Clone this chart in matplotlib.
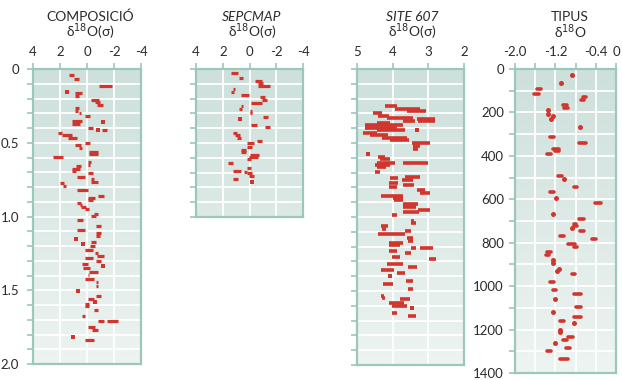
import numpy as np
import matplotlib
matplotlib.use("Agg")
import matplotlib.pyplot as plt
from matplotlib.colors import to_rgb
from matplotlib.ticker import MultipleLocator, FixedLocator, FixedFormatter

plt.rcParams["font.family"] = ["Lato", "DejaVu Sans"]
plt.rcParams["axes.unicode_minus"] = False

RED = "#d2352d"
SPINE = "#9cc7bc"
TEXT = "#2b2b2b"
TOP_BG = np.array(to_rgb("#cde0db"))
BOTTOM_BG = np.array(to_rgb("#eef4f2"))

# --- COMPOSICIO: dashes (depth, x from, x to) and single dots
comp_depth = [0.041, 0.065, 0.114, 0.165, 0.185, 0.209, 0.227, 0.247, 0.262, 0.285,
              0.300, 0.322, 0.352, 0.375, 0.397, 0.415, 0.431, 0.450, 0.466,
              0.504, 0.518, 0.534, 0.560, 0.578, 0.595, 0.630, 0.650, 0.659, 0.677,
              0.692, 0.708, 0.731, 0.745, 0.763, 0.775, 0.795, 0.822, 0.858, 0.874,
              0.890, 0.908, 0.920, 0.935, 0.949, 0.980, 0.996, 1.021, 1.062, 1.094,
              1.112, 1.134, 1.171, 1.203, 1.225, 1.248, 1.266, 1.279, 1.302, 1.320,
              1.352, 1.375, 1.397, 1.425, 1.447, 1.470, 1.542, 1.561, 1.592, 1.610,
              1.637, 1.674, 1.710, 1.710, 1.746, 1.769, 1.837]
comp_from = [1.34, 0.97, -0.86, 0.92, 0.92, -0.32, -0.56, -0.73, 0.92, 0.92,
             0.61, 0.12, 1.14, 1.14, -0.05, -1.10, 2.12, 1.83, 1.40,
             0.17, 0.90, 0.60, -0.12, -0.17, 2.55, -0.07, -0.07, 0.80, 1.10,
             1.14, -0.07, 0.73, -0.32, -0.32, 1.97, 1.80, 0.73, -0.85, -0.07,
             -0.10, 0.73, 0.55, 0.41, 0.17, -0.49, -0.32, 0.73, -0.66, 0.73,
             -0.70, -0.66, -0.32, -0.25, 0.12, -0.56, -0.73, 0.17, -0.66, 0.36,
             0.31, -0.12, -0.07, 0.12, -0.66, -0.66, -0.66, -0.07, 0.17, 0.17,
             -0.49, 0.36, -0.85, -1.46, -0.07, -0.39, 0.12]
comp_to = [0.97, 0.56, -1.88, 0.37, 0.60, -0.86, -0.97, -1.22, 0.61, 0.65,
           0.41, -0.25, 0.37, 0.55, -0.42, -1.46, 1.83, 1.10, 0.73,
           -0.25, 0.45, 0.36, -0.85, -0.80, 1.78, -0.27, -0.25, 0.41, 0.49,
           0.80, -0.46, 0.17, -0.49, -0.85, 1.70, 1.58, -0.07, -1.24, -0.61,
           -0.45, 0.45, 0.36, 0.07, -0.17, -0.85, -0.66, 0.31, -1.05, 0.17,
           -1.00, -0.95, -0.66, -0.61, -0.42, -0.80, -1.29, -0.42, -1.05, -0.07,
           -0.25, -0.85, -0.17, -0.49, -0.85, -0.80, -1.05, -0.49, -0.12, -0.17,
           -0.85, 0.12, -1.29, -2.27, -0.61, -0.85, -0.49]
comp_dot_depth = [0.154, 0.356, 0.413, 1.153, 1.189, 1.338, 1.506, 1.583, 1.819]
comp_dot_x = [1.46, -1.15, -0.78, 0.85, 0.31, -1.15, 0.66, -0.56, 1.04]

# --- SEPCMAP
sep_depth = [0.025, 0.058, 0.081, 0.097, 0.117, 0.137, 0.155, 0.176, 0.191, 0.209,
             0.232, 0.250, 0.268, 0.282, 0.300, 0.322, 0.376, 0.392, 0.430, 0.448,
             0.466, 0.486, 0.502, 0.525, 0.545, 0.560, 0.579, 0.597, 0.610, 0.633,
             0.667, 0.687, 0.694, 0.705, 0.723, 0.745]
sep_from = [1.41, 0.77, -0.43, -0.60, -0.67, 1.25, 1.41, 0.65, -0.79, -0.91,
            -0.14, 0.65, 0.77, -0.02, -0.05, -0.98, -0.14, -1.15, 1.20, 1.05,
            0.93, -0.55, 0.17, 0.22, 0.65, 0.65, -0.07, 0.05, 0.22, 1.60,
            0.22, 1.20, 0.41, 0.17, 0.05, 1.25]
sep_to = [0.89, 0.46, -0.91, -0.98, -1.56, 1.08, 1.13, 0.05, -1.15, -1.32,
          -0.91, 0.46, 0.53, -0.19, -0.19, -1.37, -0.55, -1.51, 0.93, 0.74,
          0.60, -0.91, -0.36, -0.19, 0.29, 0.29, -0.74, -0.67, -0.12, 1.25,
          -0.12, 0.65, 0.22, -0.19, -0.31, 0.84]
sep_dot_depth = [0.338, 0.764]
sep_dot_x = [0.72, -0.19]

# --- SITE 607
site_depth = [0.250, 0.268, 0.284, 0.300, 0.318, 0.333, 0.340, 0.352, 0.350, 0.363,
              0.380, 0.396, 0.412, 0.430, 0.448, 0.466, 0.480, 0.502, 0.520, 0.540,
              0.592, 0.610, 0.633, 0.633, 0.650, 0.664, 0.694, 0.727, 0.738, 0.750,
              0.773, 0.784, 0.800, 0.818, 0.840, 0.855, 0.870, 0.885, 0.915, 0.930,
              0.951, 0.969, 0.988, 1.024, 1.040, 1.058, 1.078, 1.096, 1.114, 1.141,
              1.159, 1.173, 1.191, 1.209, 1.209, 1.231, 1.245, 1.268, 1.284, 1.318,
              1.340, 1.358, 1.376, 1.431, 1.454, 1.487, 1.532, 1.548, 1.557, 1.580,
              1.598, 1.652, 1.670]
site_from = [4.22, 3.93, 3.61, 4.54, 4.40, 4.17, 3.32, 3.30, 3.70, 4.45,
             4.78, 4.78, 4.45, 4.83, 4.64, 4.31, 4.08, 3.46, 3.42, 3.42,
             4.40, 4.36, 4.45, 3.72, 4.50, 4.45, 4.50, 3.65, 4.08, 3.75,
             4.09, 3.72, 4.09, 3.32, 3.23, 4.34, 3.98, 3.95, 3.70, 3.70,
             3.28, 3.72, 4.03, 3.49, 3.49, 4.34, 4.30, 3.65, 4.40, 3.61,
             3.58, 4.09, 4.09, 3.49, 3.23, 4.09, 3.65, 4.03, 2.98, 4.17,
             3.56, 4.34, 3.87, 3.62, 4.26, 3.56, 4.34, 4.30, 3.79, 4.09,
             4.03, 4.03, 3.56]
site_to = [3.89, 3.23, 3.06, 4.31, 4.09, 3.42, 2.81, 2.81, 3.37, 4.08,
           3.70, 3.89, 3.65, 4.45, 4.12, 3.61, 3.53, 2.95, 3.23, 3.30,
           4.22, 4.08, 3.93, 3.02, 4.08, 4.20, 4.36, 3.23, 3.84, 3.42,
           3.84, 3.40, 3.89, 3.09, 2.95, 3.70, 3.70, 3.72, 3.28, 3.35,
           2.95, 3.25, 3.89, 3.40, 3.34, 4.12, 4.20, 3.49, 3.65, 3.44,
           3.44, 3.70, 3.80, 3.34, 2.87, 3.89, 3.49, 3.79, 2.78, 3.72,
           3.32, 3.96, 3.65, 3.42, 3.98, 3.42, 4.25, 4.22, 3.51, 3.68,
           3.61, 3.89, 3.34]
site_dot_depth = [0.412, 0.574, 1.396, 1.616]
site_dot_x = [3.31, 4.69, 4.08, 3.46]

# --- TIPUS (depth 0-1400)
tip_depth = [94, 117, 131, 143, 165, 178, 315, 340, 368, 376, 391, 491, 543, 568,
             618, 692, 712, 722, 745, 769, 781, 805, 818, 843, 858, 945, 981,
             1018, 1034, 1095, 1144, 1160, 1234, 1246, 1284, 1298, 1335]
tip_from = [-1.56, -1.62, -0.65, -0.69, -1.04, -1.02, -1.31, -0.73, -1.24, -1.20,
            -1.37, -1.15, -0.83, -1.31, -0.42, -0.74, -0.84, -0.84, -0.72, -1.10,
            -0.48, -0.95, -0.84, -1.37, -1.38, -0.88, -1.31, -1.24, -0.83, -0.79,
            -0.84, -1.10, -0.95, -1.05, -0.99, -1.37, -1.10]
tip_to = [-1.48, -1.53, -0.60, -0.64, -0.98, -0.96, -1.23, -0.59, -1.12, -1.12,
          -1.28, -1.07, -0.77, -1.23, -0.29, -0.64, -0.80, -0.77, -0.64, -1.02,
          -0.40, -0.82, -0.77, -1.28, -1.33, -0.82, -1.23, -1.18, -0.70, -0.70,
          -0.70, -1.02, -0.86, -0.97, -0.91, -1.28, -0.96]
tip_dot_depth = [28, 66, 190, 205, 217, 229, 266, 506, 592, 668, 732, 880, 895,
                 920, 931, 1057, 1120, 1172, 1200, 1212, 1261]
tip_dot_x = [-0.88, -1.09, -1.35, -1.35, -1.24, -1.29, -0.72, -1.03, -1.19, -1.24,
             -0.88, -1.24, -1.24, -1.12, -1.16, -1.20, -1.24, -0.83, -1.10, -1.10,
             -1.20]

titles = ["COMPOSICIÓ", "SEPCMAP", "SITE 607", "TIPUS"]
subtitles = ["δ$^{18}$O(σ)", "δ$^{18}$O(σ)", "δ$^{18}$O(σ)", "δ$^{18}$O"]

W, H = 622, 380
GRAD_TOP, GRAD_BOTTOM = 69, 373


def px_axes(fig, left, top, right, bottom):
    return fig.add_axes([left / W, 1 - bottom / H, (right - left) / W, (bottom - top) / H])


def paint_background(ax, top_px, bottom_px):
    t = np.linspace((top_px - GRAD_TOP) / (GRAD_BOTTOM - GRAD_TOP),
                    (bottom_px - GRAD_TOP) / (GRAD_BOTTOM - GRAD_TOP), 200)
    img = TOP_BG[None, :] * (1 - t[:, None]) + BOTTOM_BG[None, :] * t[:, None]
    x0, x1 = ax.get_xlim()
    y0, y1 = ax.get_ylim()
    ax.imshow(img[:, None, :], extent=(x0, x1, y0, y1), origin="upper",
              aspect="auto", zorder=0, interpolation="bilinear")
    ax.set_xlim(x0, x1)
    ax.set_ylim(y0, y1)


def style_axes(ax, xticks, xlabels, ymajor, yminor, ylabels):
    ax.xaxis.tick_top()
    ax.set_xticks(xticks)
    ax.set_xticklabels(xlabels)
    ax.yaxis.set_major_locator(MultipleLocator(ymajor))
    ax.yaxis.set_minor_locator(MultipleLocator(yminor))
    if not ylabels:
        ax.tick_params(axis="y", which="both", labelleft=False)
    ax.tick_params(axis="x", which="both", direction="out", length=4, width=1.2,
                   color=SPINE, labelsize=9.5, labelcolor=TEXT, pad=4)
    ax.tick_params(axis="y", which="both", direction="out", length=4, width=1.2,
                   color=SPINE, labelsize=9.5, labelcolor=TEXT, pad=6)
    ax.grid(True, which="both", color="white", linewidth=1.3)
    ax.set_axisbelow(True)
    for sp in ax.spines.values():
        sp.set_color(SPINE)
        sp.set_linewidth(1.6)
        sp.set_zorder(4)


def draw_marks(ax, depth, x_from, x_to, dot_depth, dot_x, lw, cap, ms):
    ax.hlines(depth, x_from, x_to, colors=RED, linewidth=lw, capstyle=cap, zorder=3)
    ax.plot(dot_x, dot_depth, "o" if cap == "round" else "s", color=RED,
            markersize=ms, markeredgewidth=0, linestyle="none", zorder=3)


def main():
    fig = plt.figure(figsize=(W / 100, H / 100), dpi=100)

    # panel boxes in pixels: left, top, right, bottom
    boxes = [(33, 69, 141, 364), (196, 69, 303, 217), (357, 69, 464, 365), (515, 69, 616, 373)]
    title_x = [90, 252, 412, 570]

    ax1 = px_axes(fig, *boxes[0])
    ax1.set_xlim(4, -4)
    ax1.set_ylim(2.0, 0)
    style_axes(ax1, [4, 2, 0, -2, -4], ["4", "2", "0", "-2", "-4"], 0.5, 0.1, True)
    ax1.yaxis.set_major_formatter(FixedFormatter(["0", "0.5", "1.0", "1.5", "2.0"]))
    ax1.yaxis.set_major_locator(FixedLocator([0, 0.5, 1.0, 1.5, 2.0]))
    paint_background(ax1, boxes[0][1], boxes[0][3])
    draw_marks(ax1, comp_depth, comp_from, comp_to, comp_dot_depth, comp_dot_x, 2.3, "butt", 3.2)

    ax2 = px_axes(fig, *boxes[1])
    ax2.set_xlim(4, -4)
    ax2.set_ylim(1.0, 0)
    style_axes(ax2, [4, 2, 0, -2, -4], ["4", "2", "0", "-2", "-4"], 0.1, 0.1, False)
    paint_background(ax2, boxes[1][1], boxes[1][3])
    draw_marks(ax2, sep_depth, sep_from, sep_to, sep_dot_depth, sep_dot_x, 2.3, "butt", 3.2)

    ax3 = px_axes(fig, *boxes[2])
    ax3.set_xlim(5, 2)
    ax3.set_ylim(2.0, 0)
    style_axes(ax3, [5, 4, 3, 2], ["5", "4", "3", "2"], 0.1, 0.1, False)
    paint_background(ax3, boxes[2][1], boxes[2][3])
    draw_marks(ax3, site_depth, site_from, site_to, site_dot_depth, site_dot_x, 2.6, "butt", 3.2)

    ax4 = px_axes(fig, *boxes[3])
    ax4.set_xlim(-2.0, 0)
    ax4.set_ylim(1400, 0)
    style_axes(ax4, [-2.0, -1.6, -1.2, -0.8, -0.4, 0],
               ["-2.0", "", "-1.2", "", "-0.4", "0"], 200, 100, True)
    ax4.tick_params(axis="y", which="both", pad=4)
    paint_background(ax4, boxes[3][1], boxes[3][3])
    draw_marks(ax4, tip_depth, tip_from, tip_to, tip_dot_depth, tip_dot_x, 2.6, "round", 3.6)

    for x, title, sub, style in zip(title_x, titles, subtitles,
                                    ["normal", "italic", "italic", "normal"]):
        fig.text(x / W, 1 - 17 / H, title, ha="center", va="center",
                 fontsize=10, color=TEXT, style=style)
        fig.text(x / W, 1 - 32 / H, sub, ha="center", va="center",
                 fontsize=10, color=TEXT)

    fig.savefig("out.png", dpi=100)


if __name__ == "__main__":
    main()
